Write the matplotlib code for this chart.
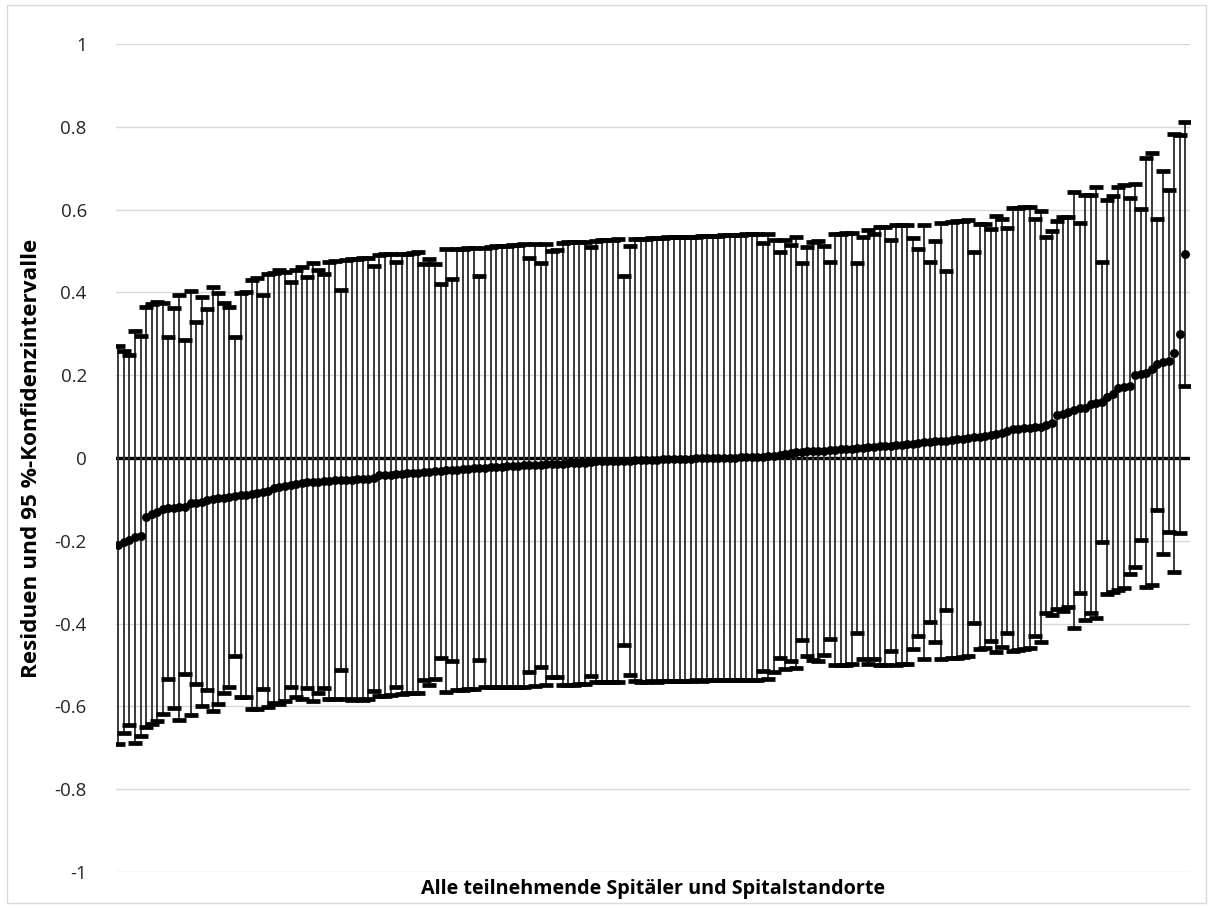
import numpy as np
import matplotlib
matplotlib.use("Agg")
import matplotlib.pyplot as plt
from matplotlib.patches import Rectangle

plt.rcParams['font.family'] = ['Open Sans', 'DejaVu Sans']
plt.rcParams['axes.unicode_minus'] = False

# --- Data: residuals per hospital (sorted) and upper bound of the 95 % CI ---
# Intervals are symmetric around the residual.
residual = [
    -0.210, -0.202, -0.197, -0.190, -0.188, -0.142, -0.136, -0.130, -0.122, -0.120,
    -0.120, -0.119, -0.118, -0.109, -0.108, -0.105, -0.101, -0.100, -0.097, -0.096,
    -0.095, -0.092, -0.089, -0.089, -0.088, -0.085, -0.083, -0.079, -0.072, -0.070,
    -0.068, -0.064, -0.062, -0.060, -0.059, -0.058, -0.057, -0.056, -0.055, -0.054,
    -0.053, -0.052, -0.052, -0.051, -0.051, -0.050, -0.049, -0.042, -0.041, -0.040,
    -0.039, -0.038, -0.037, -0.036, -0.035, -0.034, -0.033, -0.032, -0.031, -0.030,
    -0.029, -0.028, -0.027, -0.026, -0.025, -0.024, -0.023, -0.022, -0.021, -0.021,
    -0.020, -0.019, -0.019, -0.018, -0.017, -0.017, -0.016, -0.015, -0.015, -0.014,
    -0.014, -0.013, -0.013, -0.012, -0.012, -0.009, -0.008, -0.008, -0.007, -0.007,
    -0.006, -0.006, -0.006, -0.005, -0.005, -0.005, -0.004, -0.004, -0.003, -0.003,
    -0.003, -0.002, -0.002, -0.002, -0.001, -0.001, 0.000, 0.000, 0.000, 0.001,
    0.001, 0.001, 0.002, 0.002, 0.002, 0.003, 0.003, 0.004, 0.005, 0.007,
    0.009, 0.012, 0.014, 0.015, 0.016, 0.017, 0.017, 0.018, 0.019, 0.020,
    0.021, 0.022, 0.023, 0.024, 0.025, 0.026, 0.027, 0.028, 0.029, 0.030,
    0.031, 0.032, 0.033, 0.035, 0.037, 0.038, 0.039, 0.040, 0.041, 0.042,
    0.044, 0.045, 0.046, 0.048, 0.050, 0.052, 0.054, 0.056, 0.058, 0.060,
    0.066, 0.070, 0.071, 0.072, 0.073, 0.074, 0.076, 0.079, 0.085, 0.104,
    0.107, 0.111, 0.116, 0.121, 0.122, 0.130, 0.134, 0.135, 0.147, 0.154,
    0.168, 0.172, 0.175, 0.200, 0.202, 0.206, 0.216, 0.226, 0.231, 0.235,
    0.253, 0.300, 0.492,
]

ci_upper = [
    0.270, 0.259, 0.250, 0.308, 0.295, 0.365, 0.371, 0.376, 0.375, 0.293,
    0.363, 0.394, 0.285, 0.403, 0.329, 0.390, 0.359, 0.412, 0.399, 0.375,
    0.364, 0.293, 0.398, 0.400, 0.430, 0.435, 0.393, 0.444, 0.448, 0.455,
    0.450, 0.426, 0.454, 0.462, 0.438, 0.470, 0.454, 0.444, 0.473, 0.475,
    0.407, 0.478, 0.480, 0.481, 0.482, 0.483, 0.464, 0.490, 0.492, 0.493,
    0.474, 0.494, 0.494, 0.496, 0.498, 0.469, 0.481, 0.469, 0.421, 0.504,
    0.433, 0.505, 0.506, 0.507, 0.507, 0.440, 0.508, 0.510, 0.511, 0.512,
    0.513, 0.514, 0.515, 0.516, 0.484, 0.517, 0.472, 0.518, 0.500, 0.502,
    0.520, 0.521, 0.521, 0.522, 0.522, 0.509, 0.525, 0.526, 0.527, 0.527,
    0.528, 0.440, 0.511, 0.529, 0.530, 0.530, 0.531, 0.532, 0.532, 0.533,
    0.533, 0.534, 0.534, 0.535, 0.535, 0.536, 0.536, 0.537, 0.537, 0.538,
    0.538, 0.539, 0.539, 0.540, 0.540, 0.541, 0.520, 0.541, 0.527, 0.498,
    0.527, 0.514, 0.535, 0.470, 0.509, 0.522, 0.525, 0.512, 0.474, 0.541,
    0.542, 0.543, 0.544, 0.470, 0.535, 0.550, 0.540, 0.557, 0.558, 0.527,
    0.562, 0.562, 0.563, 0.532, 0.505, 0.562, 0.473, 0.525, 0.568, 0.452,
    0.570, 0.572, 0.573, 0.575, 0.498, 0.565, 0.566, 0.554, 0.585, 0.577,
    0.555, 0.605, 0.605, 0.606, 0.606, 0.578, 0.597, 0.533, 0.549, 0.572,
    0.583, 0.583, 0.643, 0.568, 0.635, 0.635, 0.654, 0.474, 0.623, 0.632,
    0.654, 0.659, 0.629, 0.663, 0.601, 0.724, 0.738, 0.578, 0.693, 0.648,
    0.782, 0.780, 0.811,
]

y_ticks = [-1, -0.8, -0.6, -0.4, -0.2, 0, 0.2, 0.4, 0.6, 0.8, 1]

res = np.array(residual)
half_width = np.array(ci_upper) - res
x = np.arange(len(res))

fig = plt.figure(figsize=(12.13, 9.08), dpi=100)
ax = fig.add_axes([0.0956, 0.0396, 0.8854, 0.9119])

# zero line sits under the interval bars
ax.axhline(0, color='black', lw=2.4, zorder=1.5)

markers, caps, bars = ax.errorbar(
    x, res, yerr=half_width, fmt='o', color='black', markersize=5.4,
    ecolor='#333333', elinewidth=1.35, capsize=4.7, capthick=3.4, zorder=3)
for c in caps:
    c.set_color('black')
    c.set_markeredgecolor('black')
    c.set_markerfacecolor('black')

ax.set_xlim(-0.42, len(res) - 1 + 0.86)
ax.set_ylim(-1, 1)
ax.set_yticks(y_ticks)
ax.set_yticklabels([f"{t:g}" for t in y_ticks])
ax.set_xticks([])
ax.tick_params(axis='y', length=0, pad=21, labelsize=13.5, labelcolor='#262626')

ax.yaxis.grid(True, color='#d9d9d9', lw=1.0)
ax.set_axisbelow(True)
for s in ax.spines.values():
    s.set_visible(False)

ax.set_ylabel('Residuen und 95 %-Konfidenzintervalle', fontsize=16.2,
              fontweight='bold', labelpad=9)
ax.set_xlabel('Alle teilnehmende Spitäler und Spitalstandorte', fontsize=14.2,
              fontweight='bold', labelpad=5)

# light chart-area border
fig.patches.append(Rectangle((0.006, 0.005), 0.988, 0.989, transform=fig.transFigure,
                             fill=False, edgecolor='#d9d9d9', lw=1.0))

fig.savefig('out.png', dpi=100)
